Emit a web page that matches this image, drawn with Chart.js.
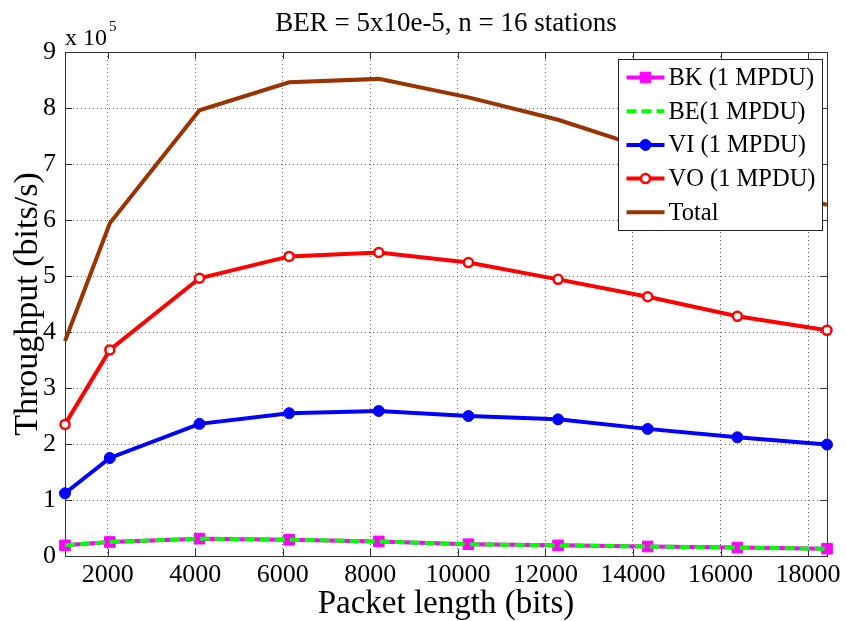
<!DOCTYPE html>
<html>
<head>
<meta charset="utf-8">
<script src="https://cdn.jsdelivr.net/npm/chart.js@4/dist/chart.umd.min.js"></script>
<style>
  html, body { margin: 0; padding: 0; background: #fff; }
  #wrap { width: 846px; height: 621px; }
</style>
</head>
<body>
<div id="wrap"><canvas id="c" width="846" height="621"></canvas></div>
<script>
// Packet lengths (bits) on the x axis
const packetLengths = [1024, 2048, 4096, 6144, 8192, 10240, 12288, 14336, 16384, 18432];
// Throughput per access category (bits/s)
const bkThroughput = [19000, 25000, 31000, 29000, 26000, 21000, 19000, 17000, 15000, 13000];
const beThroughput = [19000, 25000, 31000, 29000, 26000, 21000, 19000, 17000, 15000, 13000];
const viThroughput = [112000, 175000, 236000, 255000, 259000, 250000, 244000, 227000, 212000, 199000];
const voThroughput = [235000, 368000, 496000, 535000, 542000, 524000, 494000, 463000, 428000, 403000];
const totalThroughput = [384000, 594000, 796000, 846000, 852000, 819000, 779000, 727000, 675000, 627000];
// Axis ticks
const xTickValues = [2000, 4000, 6000, 8000, 10000, 12000, 14000, 16000, 18000];
const yTickStep = 100000;
const yMax = 900000;
const seriesLabels = ['BK (1 MPDU)', 'BE(1 MPDU)', 'VI (1 MPDU)', 'VO (1 MPDU)', 'Total'];

const SERIF = "'Liberation Serif', 'Times New Roman', serif";
Chart.defaults.font.family = SERIF;
Chart.defaults.color = '#000';

function toXY(values) {
  return values.map((v, i) => ({ x: packetLengths[i], y: v }));
}

// Box, inward tick marks, exponent label and boxed legend
const framePlugin = {
  id: 'frame',
  beforeDatasetsDraw(chart) {
    const { ctx, chartArea: a, scales } = chart;
    ctx.save();
    ctx.strokeStyle = '#333';
    ctx.lineWidth = 1;
    ctx.strokeRect(Math.round(a.left) + 0.5, Math.round(a.top) + 0.5,
      Math.round(a.right - a.left), Math.round(a.bottom - a.top));
    const tl = 7;
    ctx.beginPath();
    scales.x.ticks.forEach(t => {
      const px = Math.round(scales.x.getPixelForValue(t.value)) + 0.5;
      ctx.moveTo(px, a.bottom); ctx.lineTo(px, a.bottom - tl);
      ctx.moveTo(px, a.top); ctx.lineTo(px, a.top + tl);
    });
    scales.y.ticks.forEach(t => {
      const py = Math.round(scales.y.getPixelForValue(t.value)) + 0.5;
      ctx.moveTo(a.left, py); ctx.lineTo(a.left + tl, py);
      ctx.moveTo(a.right, py); ctx.lineTo(a.right - tl, py);
    });
    ctx.stroke();
    ctx.restore();
  },
  afterDraw(chart) {
    const { ctx, chartArea: a } = chart;
    ctx.save();
    // exponent of the y axis
    ctx.fillStyle = '#000';
    ctx.textBaseline = 'alphabetic';
    ctx.textAlign = 'left';
    ctx.font = '24px ' + SERIF;
    ctx.fillText('x 10', a.left, a.top - 7);
    const w = ctx.measureText('x 10').width;
    ctx.font = '15px ' + SERIF;
    ctx.fillText('5', a.left + w + 2, a.top - 21);

    // legend box
    const bw = 204, bh = 171;
    const bx = Math.round(a.right - 5 - bw) + 0.5;
    const by = Math.round(a.top + 7) + 0.5;
    ctx.fillStyle = '#fff';
    ctx.fillRect(bx, by, bw, bh);
    ctx.strokeStyle = '#222';
    ctx.lineWidth = 1;
    ctx.strokeRect(bx, by, bw, bh);
    ctx.font = '24.5px ' + SERIF;
    ctx.textBaseline = 'middle';
    chart.data.datasets.forEach((ds, i) => {
      const y = by + 18 + i * 33.7;
      const x0 = bx + 8, x1 = bx + 46, xm = (x0 + x1) / 2;
      ctx.save();
      ctx.strokeStyle = ds.borderColor;
      ctx.lineWidth = ds.borderWidth;
      ctx.setLineDash(ds.borderDash || []);
      ctx.beginPath();
      ctx.moveTo(x0, y); ctx.lineTo(x1, y);
      ctx.stroke();
      ctx.restore();
      if (ds.pointRadius > 0) {
        ctx.save();
        ctx.fillStyle = ds.pointBackgroundColor;
        ctx.strokeStyle = ds.pointBorderColor;
        ctx.lineWidth = ds.pointBorderWidth;
        ctx.beginPath();
        if (ds.pointStyle === 'rect') {
          const s = Math.SQRT1_2 * ds.pointRadius;
          ctx.rect(xm - s, y - s, 2 * s, 2 * s);
        } else {
          ctx.arc(xm, y, ds.pointRadius, 0, Math.PI * 2);
        }
        ctx.fill();
        ctx.stroke();
        ctx.restore();
      }
      ctx.fillStyle = '#000';
      ctx.fillText(ds.label, bx + 50, y + 1);
    });
    ctx.restore();
  }
};

new Chart(document.getElementById('c'), {
  type: 'line',
  data: {
    datasets: [
      {
        label: seriesLabels[0], data: toXY(bkThroughput), order: 5,
        borderColor: '#ff00ff', borderWidth: 4,
        pointStyle: 'rect', pointRadius: 7.5, pointBorderWidth: 1,
        pointBackgroundColor: '#ff00ff', pointBorderColor: '#ff00ff'
      },
      {
        label: seriesLabels[1], data: toXY(beThroughput), order: 4,
        borderColor: '#00ff00', borderWidth: 4, borderDash: [10, 5],
        pointRadius: 0
      },
      {
        label: seriesLabels[2], data: toXY(viThroughput), order: 3,
        borderColor: '#0000ff', borderWidth: 4,
        pointStyle: 'circle', pointRadius: 5.5, pointBorderWidth: 1,
        pointBackgroundColor: '#0000ff', pointBorderColor: '#0000ff'
      },
      {
        label: seriesLabels[3], data: toXY(voThroughput), order: 2,
        borderColor: '#ff0000', borderWidth: 4,
        pointStyle: 'circle', pointRadius: 4.5, pointBorderWidth: 2.5,
        pointBackgroundColor: '#ffffff', pointBorderColor: '#ff0000'
      },
      {
        label: seriesLabels[4], data: toXY(totalThroughput), order: 1,
        borderColor: '#993300', borderWidth: 4,
        pointRadius: 0
      }
    ]
  },
  options: {
    responsive: false,
    animation: false,
    layout: { padding: { left: 0, right: 19, top: 0, bottom: 0 } },
    elements: { line: { tension: 0, fill: false }, point: { hoverRadius: 0 } },
    datasets: { line: { clip: false } },
    plugins: {
      legend: { display: false },
      tooltip: { enabled: false },
      title: {
        display: true,
        text: 'BER = 5x10e-5, n = 16 stations',
        fullSize: false,
        color: '#000',
        font: { size: 27, weight: 'normal', family: SERIF, lineHeight: 1.2 },
        padding: { top: 8, bottom: 11.6 }
      }
    },
    scales: {
      x: {
        type: 'linear',
        min: packetLengths[0],
        max: packetLengths[packetLengths.length - 1],
        afterBuildTicks(scale) { scale.ticks = xTickValues.map(v => ({ value: v })); },
        afterFit(scale) { scale.height = 65; },
        ticks: {
          autoSkip: false, maxRotation: 0, padding: 4,
          color: '#000', font: { size: 26, family: SERIF },
          callback: v => String(v)
        },
        grid: {
          drawTicks: false,
          color: 'rgba(0,0,0,0.6)', lineWidth: 1
        },
        border: { display: false, dash: [1, 3] },
        title: {
          display: true, text: 'Packet length (bits)', color: '#000',
          font: { size: 33, family: SERIF, lineHeight: 1.0 },
          padding: { top: 0, bottom: 0 }
        }
      },
      y: {
        type: 'linear',
        min: 0, max: yMax,
        ticks: {
          stepSize: yTickStep, padding: 9,
          color: '#000', font: { size: 26, family: SERIF },
          callback: v => String(v / 100000)
        },
        afterFit(scale) { scale.width = 65; },
        grid: {
          drawTicks: false,
          color: 'rgba(0,0,0,0.6)', lineWidth: 1
        },
        border: { display: false, dash: [1, 3] },
        title: {
          display: true, text: 'Throughput (bits/s)', color: '#000',
          font: { size: 34, family: SERIF, lineHeight: 1.0 },
          padding: { top: 11, bottom: 0 }
        }
      }
    }
  },
  plugins: [framePlugin]
});
</script>
</body>
</html>
